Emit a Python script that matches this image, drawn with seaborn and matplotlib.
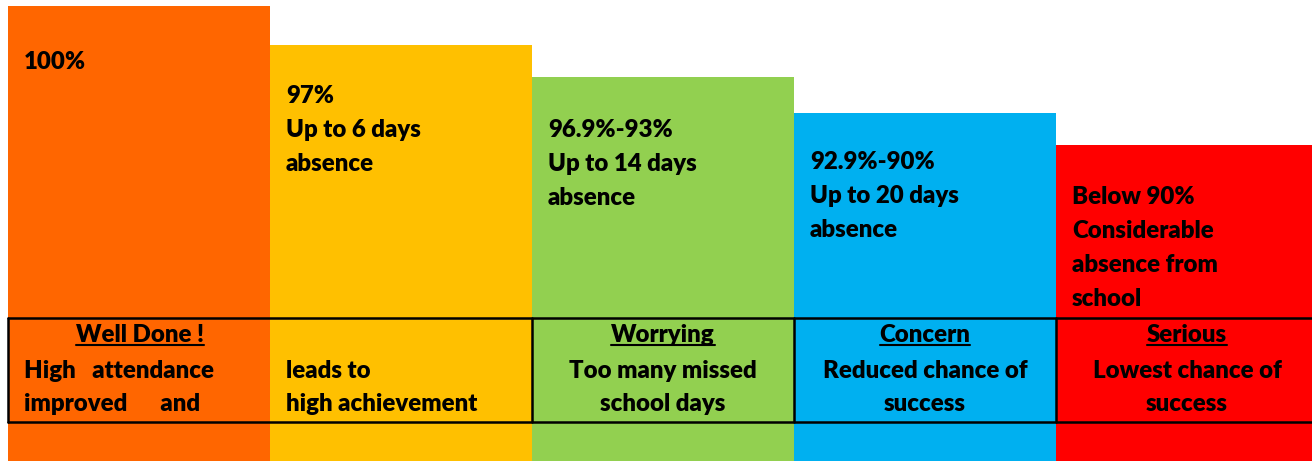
import matplotlib
matplotlib.use("Agg")
import matplotlib.pyplot as plt
import seaborn as sns
import pandas as pd

# band data (heights in pixel units measured from the bottom of the picture)
bands = ["Well Done", "leads to", "Worrying", "Concern", "Serious"]
heights = [455, 416, 384, 348, 316]
colors = ["#FF6600", "#FFC000", "#92D050", "#00B0F0", "#FF0000"]

top_lines = [
    ["100%"],
    ["97%", "Up to 6 days", "absence"],
    ["96.9%-93%", "Up to 14 days", "absence"],
    ["92.9%-90%", "Up to 20 days", "absence"],
    ["Below 90%", "Considerable", "absence from", "school"],
]
top_first_y = [399, 365, 331, 299, 264]

headings = ["Well Done !", "", "Worrying", "Concern", "Serious"]
box_lines = [
    ["High   attendance", "improved      and"],
    ["leads to", "high achievement"],
    ["Too many missed", "school days"],
    ["Reduced chance of", "success"],
    ["Lowest chance of", "success"],
]
box_align = ["left", "left", "center", "center", "center"]

W, H = 1312, 461
FONT = ["Lato", "DejaVu Sans"]
FS = 17.3
WEIGHT = "heavy"
LINE = 34
unit = 262  # pixels per bar
left = 8

sns.set_theme(style="white")
plt.rcParams["font.family"] = FONT

fig = plt.figure(figsize=(W / 100, H / 100), dpi=100)
ax = fig.add_axes([left / W, 0, 5 * unit / W, 1])

df = pd.DataFrame({"band": bands, "height": heights})
sns.barplot(data=df, x="band", y="height", hue="band", palette=colors,
            width=1.0, saturation=1, legend=False, ax=ax, linewidth=0)
ax.set_xlim(-0.5, 4.5)
ax.set_ylim(0, H)
ax.axis("off")

pad = 16 / unit

# texts inside bars
for i, lines in enumerate(top_lines):
    for j, s in enumerate(lines):
        ax.text(i - 0.5 + pad, top_first_y[i] - j * LINE, s, fontsize=FS,
                fontweight=WEIGHT, va="center", ha="left", color="black")

# table band
box_top, box_bot = H - 318, H - 422
ax.plot([-0.5, 4.5], [box_top, box_top], color="black", lw=1.8, clip_on=False)
ax.plot([-0.5, 4.5], [box_bot, box_bot], color="black", lw=1.8, clip_on=False)
for xv in [-0.5, 1.5, 2.5, 3.5]:
    ax.plot([xv, xv], [box_bot, box_top], color="black", lw=1.8, clip_on=False)

head_texts = []
for i, h in enumerate(headings):
    if h:
        cx = (140 - left) / unit - 0.5 if i == 0 else i
        t = ax.text(cx, H - 335, h, fontsize=FS, fontweight=WEIGHT,
                    ha="center", va="center", color="black")
        head_texts.append(t)
    for j, s in enumerate(box_lines[i]):
        x = i - 0.5 + pad if box_align[i] == "left" else i
        ax.text(x, H - 371 - j * 33, s, fontsize=FS, fontweight=WEIGHT,
                ha=box_align[i], va="center", color="black")

# underline headings
fig.canvas.draw()
inv = ax.transData.inverted()
for t in head_texts:
    bb = t.get_window_extent()
    (x0, y0), (x1, _) = inv.transform([(bb.x0, bb.y0), (bb.x1, bb.y1)])
    ax.plot([x0, x1], [y0 + 1, y0 + 1], color="black", lw=1.5)

fig.savefig("out.png", dpi=100)
